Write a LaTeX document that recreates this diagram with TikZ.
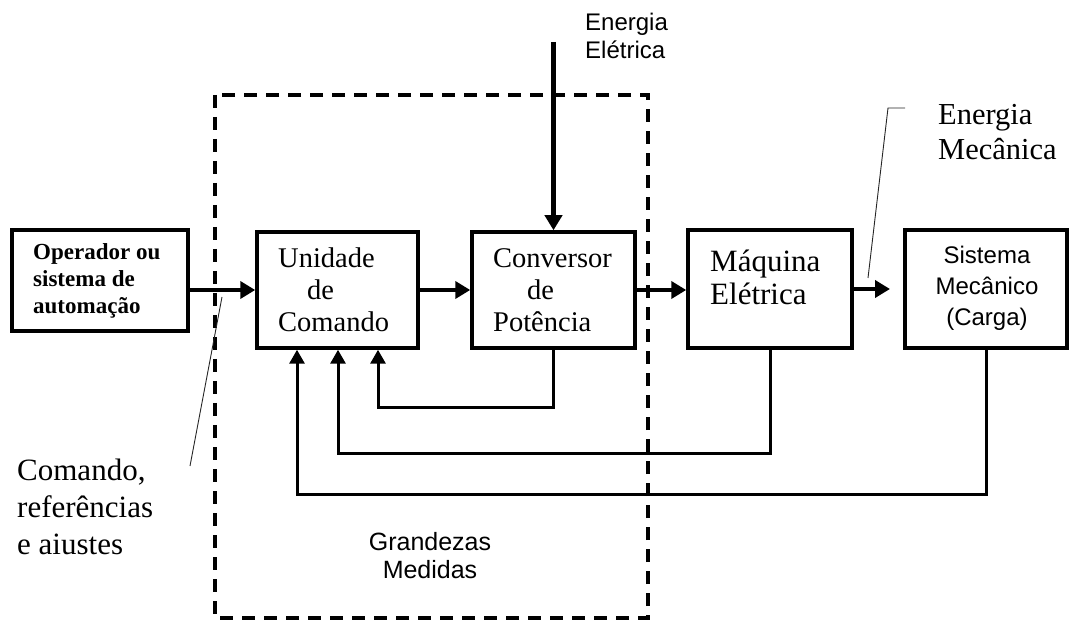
\documentclass[tikz,border=0pt]{standalone}
\usepackage{fontspec}
\setmainfont{Liberation Serif}
\setsansfont{Liberation Sans}
\usetikzlibrary{arrows.meta}

\begin{document}
\begin{tikzpicture}[x=1pt,y=-1pt,
  blk/.style={draw, line width=3.5pt, inner sep=0pt},
  flow/.style={line width=4.5pt, -{Triangle[length=15pt,width=17pt]}},
  fb/.style={line width=3pt, -{Triangle[length=14pt,width=15pt]}},
  leader/.style={line width=0.9pt, draw=black!85},
  frame/.style={line width=3.5pt, dash pattern=on 13pt off 9pt},
  txt/.style={inner sep=0pt, align=left},
  ctxt/.style={inner sep=0pt, align=center},
]
\useasboundingbox (0,0) rectangle (1069,620);

% blocks
\node[blk, minimum width=176pt, minimum height=101pt] (op)   at (100,280.5) {};
\node[blk, minimum width=161pt, minimum height=116pt] (unid) at (337.5,290) {};
\node[blk, minimum width=163pt, minimum height=116pt] (conv) at (553.5,290) {};
\node[blk, minimum width=164pt, minimum height=118pt] (maq)  at (770,289) {};
\node[blk, minimum width=162pt, minimum height=118pt] (sis)  at (986,289) {};

% block texts
\node[txt, anchor=west, font=\bfseries\fontsize{23}{27}\selectfont] (tOp) at (33,281)
  {Operador ou\\sistema de\\automação};
\node[txt, anchor=west, font=\fontsize{28.5}{32}\selectfont] (tUnid) at (278,290)
  {Unidade\\\hspace*{29pt}de\\Comando};
\node[txt, anchor=west, font=\fontsize{28.5}{32}\selectfont] (tConv) at (493,290)
  {Conversor\\\hspace*{34pt}de\\Potência};
\node[txt, anchor=west, font=\fontsize{31}{33}\selectfont] (tMaq) at (710,277)
  {Máquina\\Elétrica};
\node[ctxt, font=\sffamily\fontsize{24}{31}\selectfont] (tSis) at (987,288)
  {Sistema\\Mecânico\\(Carga)};

% free labels
\node[txt, anchor=west, font=\sffamily\fontsize{24}{28}\selectfont] (tEE) at (585,36)
  {Energia\\Elétrica};
\node[txt, anchor=west, font=\fontsize{30.5}{35}\selectfont] (tEM) at (938,132)
  {Energia\\Mecânica};
\node[txt, anchor=west, font=\fontsize{31}{37}\selectfont] (tCmd) at (17,507)
  {Comando,\\referências\\e aiustes};
\node[ctxt, font=\sffamily\fontsize{25}{28}\selectfont] (tGr) at (430,556)
  {Grandezas\\Medidas};

% dashed frame around command unit and converter
\draw[frame] (215,95) rectangle (648,618);

% main signal / power flow
\coordinate (ee) at (553.5,42);
\coordinate (mout) at (890,289);
\draw[flow] (ee) -- (conv.north);
\draw[flow] (op.east |- unid.west) -- (unid.west);
\draw[flow] (unid.east) -- (conv.west);
\draw[flow] (conv.east) -- (maq.west |- conv.east);
\draw[flow] (maq.east) -- (mout);

% measured quantities fed back to the command unit
\draw[fb] (conv.south) -- (conv.south |- 0,408) -| ([xshift=40.5pt]unid.south);
\draw[fb] (maq.south)  -- (maq.south |- 0,453)  -| ([xshift=0.5pt]unid.south);
\draw[fb] (sis.south)  -- (sis.south |- 0,494)  -| ([xshift=-40.5pt]unid.south);

% leader lines
\coordinate (c1) at (190,466);
\coordinate (c2) at (222,297);
\draw[leader] (c1) -- (c2);
\coordinate (m0) at (905,108);
\coordinate (m1) at (888,108);
\coordinate (m2) at (868,278);
\draw[leader] (m0) -- (m1) -- (m2);
\end{tikzpicture}
\end{document}
